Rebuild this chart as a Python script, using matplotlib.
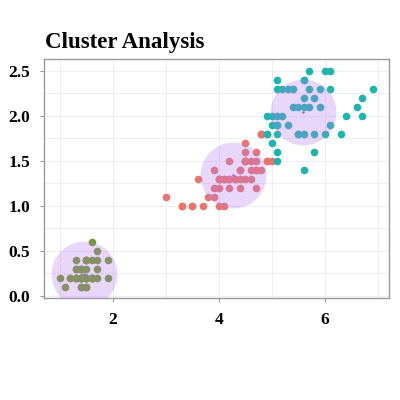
import numpy as np
import matplotlib.pyplot as plt
from matplotlib.ticker import MultipleLocator

# iris petal measurements, grouped by k-means cluster
c1_len = [1.4, 1.4, 1.3, 1.5, 1.4, 1.7, 1.4, 1.5, 1.4, 1.5, 1.5, 1.6, 1.4, 1.1, 1.2,
          1.5, 1.3, 1.4, 1.7, 1.5, 1.7, 1.5, 1.0, 1.7, 1.9, 1.6, 1.6, 1.5, 1.4, 1.6,
          1.6, 1.5, 1.5, 1.4, 1.5, 1.2, 1.3, 1.4, 1.3, 1.5, 1.3, 1.3, 1.3, 1.6, 1.9,
          1.4, 1.6, 1.4, 1.5, 1.4]
c1_wid = [0.2, 0.2, 0.2, 0.2, 0.2, 0.4, 0.3, 0.2, 0.2, 0.1, 0.2, 0.2, 0.1, 0.1, 0.2,
          0.4, 0.4, 0.3, 0.3, 0.3, 0.2, 0.4, 0.2, 0.5, 0.2, 0.2, 0.4, 0.2, 0.2, 0.2,
          0.2, 0.4, 0.1, 0.2, 0.2, 0.2, 0.2, 0.1, 0.2, 0.2, 0.3, 0.3, 0.2, 0.6, 0.4,
          0.3, 0.2, 0.2, 0.2, 0.2]

c2_len = [4.7, 4.5, 4.9, 4.0, 4.6, 4.5, 4.7, 3.3, 4.6, 3.9, 3.5, 4.2, 4.0, 4.7, 3.6,
          4.4, 4.5, 4.1, 4.5, 3.9, 4.8, 4.0, 4.9, 4.7, 4.3, 4.4, 4.8, 4.5, 3.5,
          3.8, 3.7, 3.9, 4.5, 4.5, 4.7, 4.4, 4.1, 4.0, 4.4, 4.6, 4.0, 3.3, 4.2, 4.2,
          4.2, 4.3, 3.0, 4.1, 4.5, 5.0, 4.8, 4.8]
c2_wid = [1.4, 1.5, 1.5, 1.3, 1.5, 1.3, 1.6, 1.0, 1.3, 1.4, 1.0, 1.5, 1.0, 1.4, 1.3,
          1.4, 1.5, 1.0, 1.5, 1.1, 1.8, 1.3, 1.5, 1.2, 1.3, 1.4, 1.4, 1.5, 1.0,
          1.1, 1.0, 1.2, 1.5, 1.6, 1.5, 1.3, 1.3, 1.3, 1.2, 1.4, 1.2, 1.0, 1.3, 1.2,
          1.3, 1.3, 1.1, 1.3, 1.7, 1.5, 1.8, 1.8]

c3_len = [5.0, 5.1, 6.0, 5.1, 5.9, 5.6, 5.8, 6.6, 6.3, 5.8, 6.1, 5.1, 5.3, 5.5, 5.0,
          5.1, 5.3, 5.5, 6.7, 6.9, 5.7, 4.9, 6.7, 4.9, 5.7, 6.0, 4.9, 5.6, 5.8,
          6.1, 6.4, 5.6, 5.1, 5.6, 6.1, 5.6, 5.5, 5.4, 5.6, 5.1, 5.1, 5.9, 5.7,
          5.2, 5.0, 5.2, 5.4, 5.1]
c3_wid = [1.7, 1.6, 2.5, 1.9, 2.1, 1.8, 2.2, 2.1, 1.8, 1.8, 2.5, 2.0, 1.9, 2.1, 2.0,
          2.4, 2.3, 1.8, 2.2, 2.3, 2.3, 2.0, 2.0, 1.8, 2.1, 1.8, 1.8, 2.1, 1.6,
          1.9, 2.0, 2.2, 1.5, 1.4, 2.3, 2.4, 1.8, 2.1, 2.4, 2.3, 1.9, 2.3, 2.5,
          2.3, 1.9, 2.0, 2.3, 1.8]

centers_x = [1.462, 4.269, 5.596]
centers_y = [0.246, 1.342, 2.038]

colors = ['#739a2c', '#e8746c', '#1cb5ad']

plt.rcParams['font.family'] = ['Liberation Serif', 'DejaVu Serif']

fig = plt.figure(figsize=(4, 4), dpi=100)
ax = fig.add_axes([0.11, 0.255, 0.8625, 0.5975])

for xs, ys, c in zip([c1_len, c2_len, c3_len], [c1_wid, c2_wid, c3_wid], colors):
    ax.scatter(xs, ys, s=30, color=c, linewidths=0, zorder=3)

# cluster halos on top of the points
ax.scatter(centers_x, centers_y, s=2250, color='#b57cf0', alpha=0.3,
           linewidths=0, zorder=4)
ax.scatter(centers_x, centers_y, s=3, color='#9060d0', linewidths=0, zorder=5)

ax.set_xlim(0.7, 7.21)
ax.set_ylim(-0.025, 2.63)
ax.xaxis.set_major_locator(MultipleLocator(2))
ax.xaxis.set_minor_locator(MultipleLocator(1))
ax.yaxis.set_major_locator(MultipleLocator(0.5))
ax.yaxis.set_minor_locator(MultipleLocator(0.25))
ax.grid(True, which='both', color='#ebebeb', lw=0.6, zorder=0)
ax.set_axisbelow(True)

for sp in ax.spines.values():
    sp.set_color('#9a9a9a')
    sp.set_linewidth(1)

ax.tick_params(which='major', length=3, color='#9a9a9a', pad=7, labelsize=12.5)
ax.tick_params(which='minor', length=0)
for lab in ax.get_xticklabels() + ax.get_yticklabels():
    lab.set_fontweight('bold')

fig.text(0.113, 0.88, 'Cluster Analysis', fontsize=16.5, fontweight='bold',
         ha='left', va='baseline')

fig.savefig('out.png', dpi=100, facecolor='white')
